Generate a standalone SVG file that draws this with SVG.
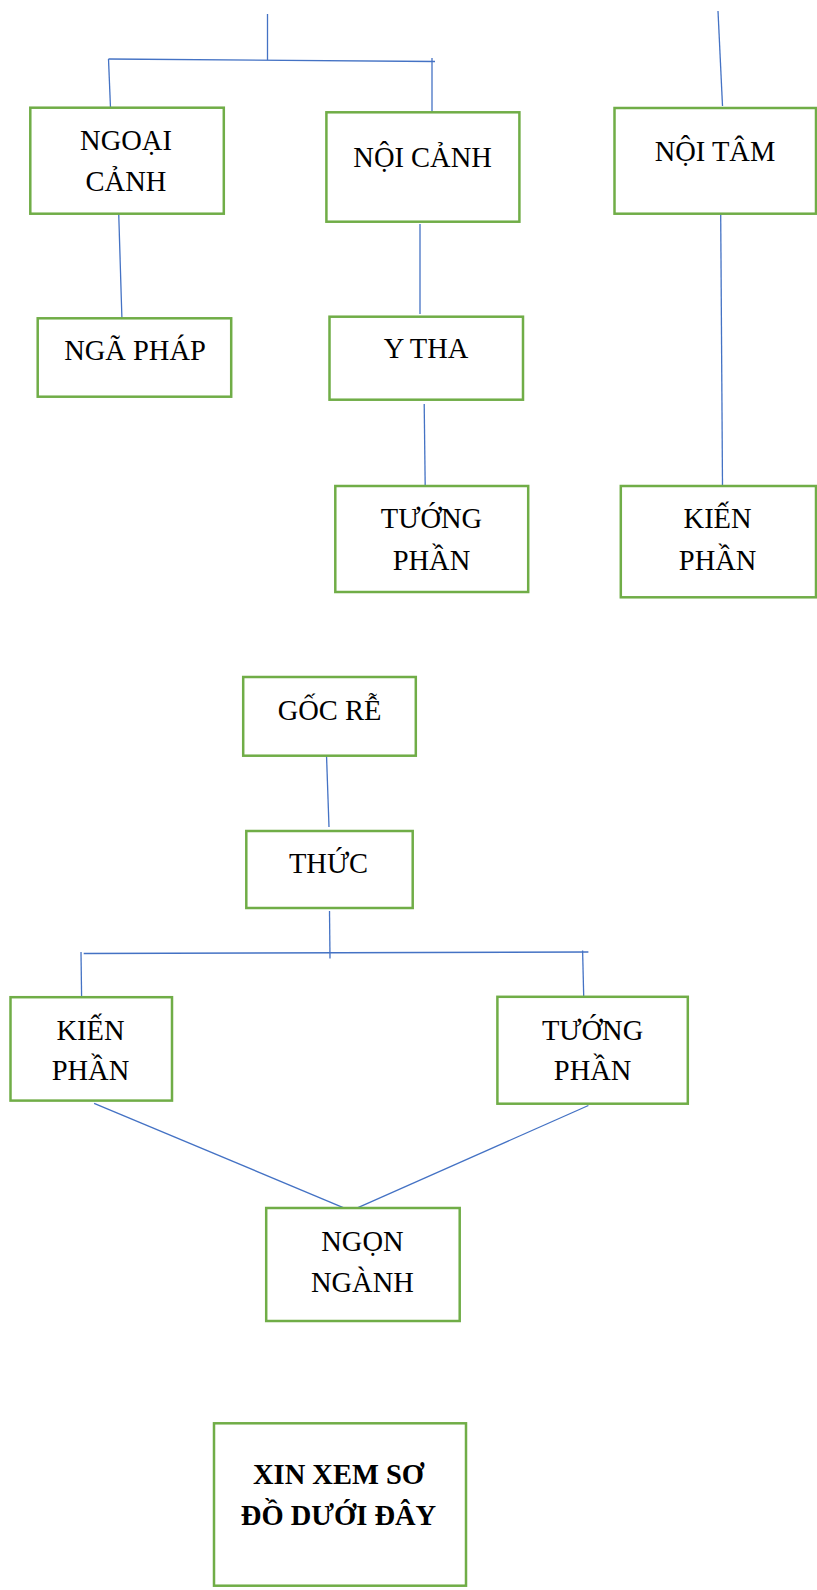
<svg xmlns="http://www.w3.org/2000/svg" width="817" height="1590" viewBox="0 0 817 1590">
<style>
.box{fill:#fff;stroke:#70AD47;stroke-width:2.5}
.lbl{font-family:"Liberation Serif","Times New Roman",serif;font-size:28.5px;fill:#000;text-anchor:middle}
.bold{font-weight:bold}
.conn line{stroke:#4472C4;stroke-width:1.3;fill:none}
</style>
<rect width="817" height="1590" fill="#fff"/>
<g id="connectors" class="conn">
<line x1="267.5" y1="14" x2="267.5" y2="60"/>
<line x1="108.5" y1="59" x2="435" y2="61.5"/>
<line x1="108.5" y1="59" x2="110.5" y2="108"/>
<line x1="432" y1="58" x2="432" y2="113"/>
<line x1="718" y1="11" x2="722.5" y2="106"/>
<line x1="118.7" y1="213" x2="121.9" y2="318"/>
<line x1="420" y1="224" x2="420" y2="314"/>
<line x1="424.2" y1="404" x2="425.2" y2="487"/>
<line x1="720.7" y1="214" x2="722.5" y2="486"/>
<line x1="326.4" y1="752" x2="329" y2="827"/>
<line x1="329.5" y1="911" x2="330" y2="958.5"/>
<line x1="83.7" y1="953.5" x2="588.4" y2="952"/>
<line x1="81" y1="952" x2="81.6" y2="997"/>
<line x1="582.6" y1="950.5" x2="583.7" y2="996"/>
<line x1="94.1" y1="1103.3" x2="350.4" y2="1210.6"/>
<line x1="588.4" y1="1105.5" x2="354" y2="1209.3"/>
</g>
<g id="ngoai-canh">
<rect class="box" x="30.3" y="107.7" width="193.5" height="106"/>
<text class="lbl" x="126" y="150">NGOẠI</text>
<text class="lbl" x="126" y="190.7">CẢNH</text>
</g>
<g id="noi-canh">
<rect class="box" x="326.4" y="112.3" width="193" height="109.4"/>
<text class="lbl" x="422.6" y="166.7">NỘI CẢNH</text>
</g>
<g id="noi-tam">
<rect class="box" x="614.5" y="108" width="201.5" height="105.7"/>
<text class="lbl" x="715" y="161">NỘI TÂM</text>
</g>
<g id="nga-phap">
<rect class="box" x="37.7" y="318.3" width="193.5" height="78.4"/>
<text class="lbl" x="135" y="360">NGÃ PHÁP</text>
</g>
<g id="y-tha">
<rect class="box" x="329.5" y="316.7" width="193.5" height="83"/>
<text class="lbl" x="426" y="358.3">Y THA</text>
</g>
<g id="tuong-phan-1">
<rect class="box" x="335.3" y="486" width="192.9" height="106"/>
<text class="lbl" x="431.5" y="527.7">TƯỚNG</text>
<text class="lbl" x="431.5" y="570">PHẦN</text>
</g>
<g id="kien-phan-1">
<rect class="box" x="620.8" y="486" width="195.2" height="111.3"/>
<text class="lbl" x="717.6" y="527.7">KIẾN</text>
<text class="lbl" x="717.6" y="570">PHẦN</text>
</g>
<g id="goc-re">
<rect class="box" x="243.2" y="677" width="172.6" height="78.7"/>
<text class="lbl" x="329.5" y="720">GỐC RỄ</text>
</g>
<g id="thuc">
<rect class="box" x="246.3" y="831" width="166.4" height="77"/>
<text class="lbl" x="328.5" y="872.7">THỨC</text>
</g>
<g id="kien-phan-2">
<rect class="box" x="10.5" y="997.2" width="161.5" height="103.4"/>
<text class="lbl" x="90.5" y="1040">KIẾN</text>
<text class="lbl" x="90.5" y="1080.4">PHẦN</text>
</g>
<g id="tuong-phan-2">
<rect class="box" x="497.4" y="996.8" width="190.4" height="106.9"/>
<text class="lbl" x="592.6" y="1040">TƯỚNG</text>
<text class="lbl" x="592.6" y="1080.4">PHẦN</text>
</g>
<g id="ngon-nganh">
<rect class="box" x="266.2" y="1208" width="193.5" height="113"/>
<text class="lbl" x="362.4" y="1251">NGỌN</text>
<text class="lbl" x="362.4" y="1291.6">NGÀNH</text>
</g>
<g id="xin-xem">
<rect class="box" x="214" y="1423.3" width="252" height="162.4"/>
<text class="lbl bold" x="338.5" y="1484">XIN XEM SƠ</text>
<text class="lbl bold" x="338.5" y="1525">ĐỒ DƯỚI ĐÂY</text>
</g>
</svg>
